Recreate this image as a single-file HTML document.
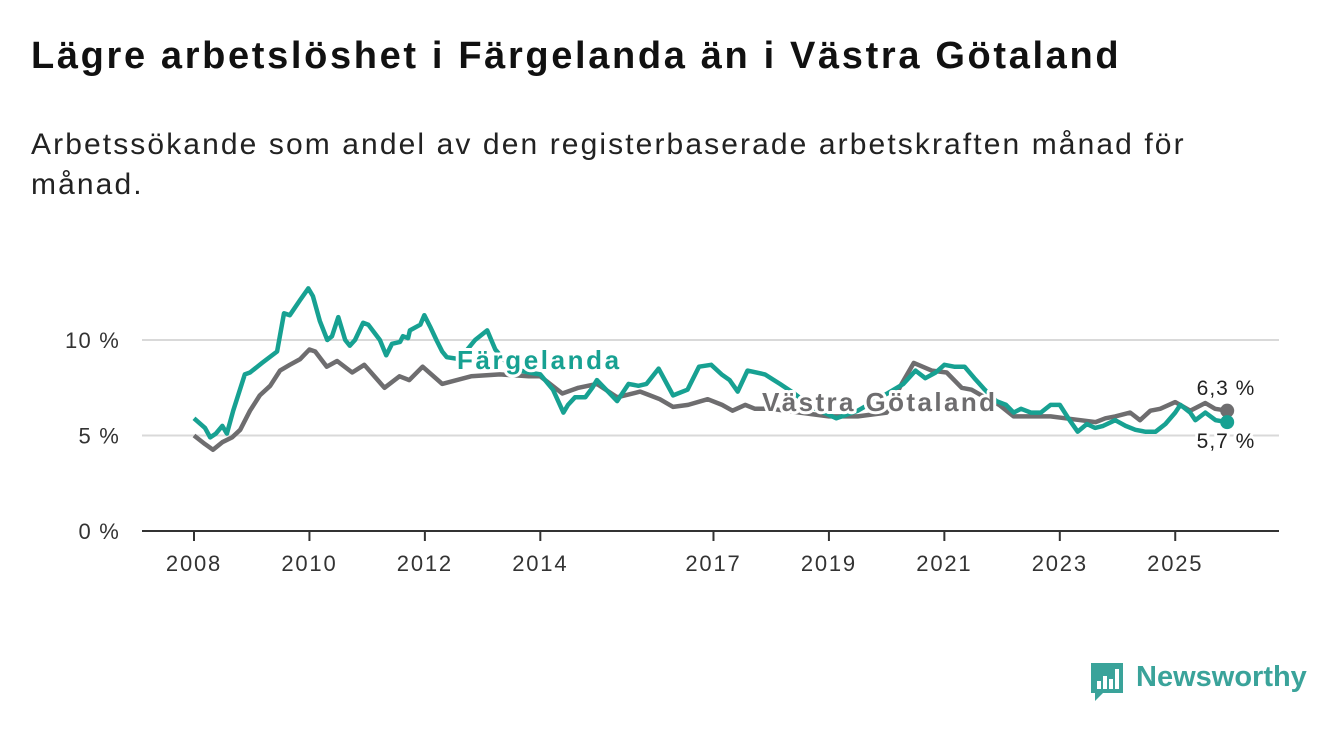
<!DOCTYPE html>
<html><head><meta charset="utf-8">
<style>
html,body{margin:0;padding:0;background:#fff;}
body{width:1340px;height:734px;overflow:hidden;font-family:"Liberation Sans",sans-serif;position:relative;}
h1{position:absolute;left:31px;top:35px;margin:0;font-size:38px;font-weight:bold;color:#111;letter-spacing:2.65px;white-space:nowrap;}
.sub{position:absolute;left:31px;top:125px;margin:0;font-size:30px;line-height:40px;color:#222;width:1200px;letter-spacing:2.1px;}
svg{position:absolute;left:0;top:0;}
</style></head><body>
<h1>Lägre arbetslöshet i Färgelanda än i Västra Götaland</h1>
<p class="sub">Arbetssökande som andel av den registerbaserade arbetskraften månad för månad.</p>
<svg id="chart" width="1340" height="734"></svg>
<script>
const xTicks=[2008,2010,2012,2014,2017,2019,2021,2023,2025];
const yTicks=[0,5,10];
const fDates=[2008.0,2008.19,2008.28,2008.38,2008.49,2008.57,2008.68,2008.88,2008.97,2009.18,2009.44,2009.56,2009.66,2009.84,2009.98,2010.06,2010.18,2010.31,2010.39,2010.5,2010.62,2010.7,2010.79,2010.93,2011.02,2011.22,2011.33,2011.43,2011.57,2011.62,2011.71,2011.74,2011.92,2011.99,2012.09,2012.2,2012.3,2012.38,2012.6,2012.87,2013.08,2013.22,2013.5,2013.8,2014.0,2014.22,2014.4,2014.48,2014.6,2014.78,2014.9,2014.98,2015.33,2015.53,2015.7,2015.84,2016.05,2016.3,2016.55,2016.75,2016.96,2017.14,2017.28,2017.42,2017.59,2017.89,2018.15,2018.4,2018.7,2019.13,2019.5,2019.9,2020.29,2020.5,2020.67,2020.85,2021.0,2021.17,2021.35,2021.52,2021.7,2021.9,2022.07,2022.2,2022.33,2022.5,2022.67,2022.84,2023.0,2023.17,2023.31,2023.47,2023.61,2023.75,2023.96,2024.14,2024.31,2024.48,2024.66,2024.83,2025.0,2025.09,2025.26,2025.35,2025.52,2025.7,2025.9];
const fVals=[5.9,5.4,4.9,5.1,5.5,5.1,6.3,8.2,8.3,8.8,9.4,11.4,11.3,12.1,12.7,12.3,11.0,10.0,10.2,11.2,10.0,9.7,10.0,10.9,10.8,10.0,9.2,9.8,9.9,10.2,10.1,10.5,10.8,11.3,10.7,10.0,9.4,9.1,9.0,10.0,10.5,9.5,8.5,8.3,8.2,7.4,6.2,6.6,7.0,7.0,7.5,7.9,6.8,7.7,7.6,7.7,8.5,7.1,7.4,8.6,8.7,8.2,7.9,7.3,8.4,8.2,7.7,7.2,6.5,5.9,6.3,7.0,7.7,8.4,8.0,8.3,8.7,8.6,8.6,8.0,7.4,6.8,6.6,6.2,6.4,6.2,6.2,6.6,6.6,5.8,5.2,5.6,5.4,5.5,5.8,5.5,5.3,5.2,5.2,5.6,6.2,6.6,6.2,5.8,6.2,5.8,5.7];
const gDates=[2008.0,2008.19,2008.33,2008.49,2008.66,2008.8,2008.97,2009.14,2009.32,2009.49,2009.66,2009.84,2010.0,2010.1,2010.3,2010.48,2010.74,2010.95,2011.3,2011.56,2011.73,2011.96,2012.3,2012.8,2013.3,2013.8,2014.0,2014.38,2014.66,2014.98,2015.33,2015.73,2015.9,2016.07,2016.3,2016.56,2016.9,2017.15,2017.33,2017.55,2017.72,2018.0,2018.5,2019.0,2019.5,2020.0,2020.26,2020.47,2020.78,2021.04,2021.3,2021.47,2021.7,2021.95,2022.2,2022.5,2022.84,2023.1,2023.36,2023.62,2023.79,2023.96,2024.22,2024.39,2024.57,2024.74,2025.0,2025.26,2025.52,2025.69,2025.9];
const gVals=[5.0,4.55,4.25,4.65,4.9,5.3,6.3,7.1,7.6,8.4,8.7,9.0,9.5,9.4,8.6,8.9,8.3,8.7,7.5,8.1,7.9,8.6,7.7,8.1,8.2,8.1,8.1,7.2,7.5,7.7,7.0,7.3,7.1,6.9,6.5,6.6,6.9,6.6,6.3,6.6,6.4,6.4,6.2,6.0,6.0,6.2,7.7,8.8,8.4,8.3,7.5,7.4,7.0,6.6,6.0,6.0,6.0,5.9,5.8,5.7,5.9,6.0,6.2,5.8,6.3,6.4,6.75,6.3,6.7,6.4,6.3];
const svg=document.getElementById('chart');
const NS='http://www.w3.org/2000/svg';
const X=y=>194+(y-2008)*57.72;
const Y=v=>531-v*19.1;
function mk(tag,attrs,parent){const e=document.createElementNS(NS,tag);for(const k in attrs)e.setAttribute(k,attrs[k]);(parent||svg).appendChild(e);return e;}
yTicks.forEach(t=>{
  const l=mk('line',{x1:142,x2:1279,y1:Y(t),y2:Y(t),stroke:t===0?'#333':'#d9d9d9','stroke-width':2});
  
  
  const tx=mk('text',{x:120,y:Y(t)+8,'text-anchor':'end','font-size':22,fill:'#333','letter-spacing':1.2});
  tx.textContent=t+' %';
  
  
});
xTicks.forEach(t=>{
  const l=mk('line',{x1:X(t),x2:X(t),y1:531,y2:541,stroke:'#333','stroke-width':2});
  
  
  const tx=mk('text',{x:X(t),y:571,'text-anchor':'middle','font-size':22,fill:'#333','letter-spacing':1.8});
  tx.textContent=t;
  
  
});
function line(d,v,c,name){
  const p=d.map((dd,i)=>(i?'L':'M')+X(dd).toFixed(1)+','+Y(v[i]).toFixed(1)).join('');
  const e=mk('path',{d:p,fill:'none',stroke:c,'stroke-width':4.5,'stroke-linejoin':'round'});
  
  
  const n=d.length-1;
  const c2=mk('circle',{cx:X(d[n]),cy:Y(v[n]),r:7,fill:c});
  
  
}
line(gDates,gVals,'#6e6d6f','vastra-gotaland-line');
line(fDates,fVals,'#17a192','fargelanda-line');
function lab(x,y,txt,c,name,bold,size,anchor,ls){
  const t=mk('text',{x:x,y:y,fill:c,'font-size':size,'font-weight':bold?'bold':'normal','text-anchor':anchor,stroke:'#fff','stroke-width':6,'paint-order':'stroke','stroke-linejoin':'round','letter-spacing':ls});
  t.textContent=txt;
  
  
}
lab(457,369,'Färgelanda','#17a192','fargelanda-label',true,26,'start',2.6);
lab(762,411,'Västra Götaland','#6e6d6f','vastra-gotaland-label',true,26,'start',2.4);
lab(1226,395,'6,3 %','#222','vastra-gotaland-end-value',false,21,'middle',1);
lab(1226,448,'5,7 %','#222','fargelanda-end-value',false,21,'middle',1);
</script>
<div style="position:absolute;left:1089px;top:661px;height:42px;">
<svg width="36" height="42" style="position:absolute;left:0;top:0">
<path d="M2 2h32v30H14l-8 8v-8H2z" fill="#3aa39a"/>
<rect x="8" y="20" width="4" height="8" fill="#fff"/><rect x="14" y="15" width="4" height="13" fill="#fff"/><rect x="20" y="18" width="4" height="10" fill="#fff"/><rect x="26" y="8" width="4" height="20" fill="#fff"/>
</svg>
<span style="position:absolute;left:47px;top:0;font-size:29px;color:#3aa39a;font-weight:bold;white-space:nowrap;">Newsworthy</span>
</div>
</body></html>
